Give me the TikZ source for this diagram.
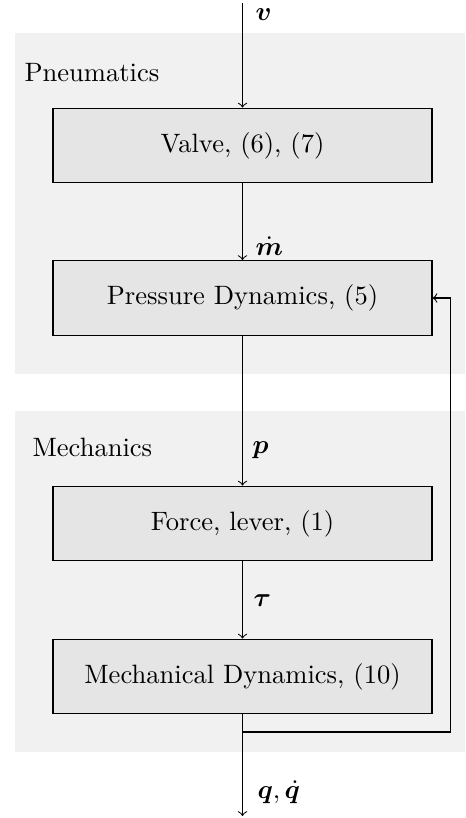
\documentclass[tikz,border=0pt]{standalone}
\usepackage{bm}
\usepackage{amsmath}
\begin{document}
\begin{tikzpicture}[x=0.3765pt,y=-0.3765pt,
  blockbox/.style={draw=black,fill=black!10,line width=0.4pt,minimum width=142.7pt,minimum height=28.2pt,inner sep=0pt},
  bgarea/.style={fill=black!5.5,draw=none},
  sig/.style={anchor=west,inner sep=0pt},
  flow/.style={->,line width=0.4pt}]
\useasboundingbox (0,0) rectangle (465,818);
\fill[bgarea] (15,33) rectangle (465,374);
\fill[bgarea] (15,411) rectangle (465,752);
\node[anchor=base west,inner sep=0pt] (lpn) at (24,82) {Pneumatics};
\node[anchor=base west,inner sep=0pt] (lme) at (32,456) {Mechanics};
\node[blockbox] (valve) at (242.5,145.5) {Valve, (6), (7)};
\node[blockbox] (pres) at (242.5,298) {Pressure Dynamics, (5)};
\node[blockbox] (force) at (242.5,523.5) {Force, lever, (1)};
\node[blockbox] (mech) at (242.5,676.5) {Mechanical Dynamics, (10)};
\coordinate (in) at (242.5,3);
\coordinate (out) at (242.5,816);
\coordinate (fb) at (242.5,732);
\coordinate (fbr) at (450.5,732);
\draw[flow] (in) -- (valve.north);
\draw[flow] (valve.south) -- (pres.north);
\draw[flow] (pres.south) -- (force.north);
\draw[flow] (force.south) -- (mech.north);
\draw[flow] (mech.south) -- (out);
\draw[flow] (fb) -- (fbr) |- (pres.east);
\node[sig] (lv) at (255,15) {$\bm{v}$};
\node[sig] (lm) at (255,246) {$\dot{\bm{m}}$};
\node[sig] (lp) at (252,450) {$\bm{p}$};
\node[sig] (lt) at (253,601) {$\bm{\tau}$};
\node[sig] (lq) at (257,792) {$\bm{q},\dot{\bm{q}}$};
\end{tikzpicture}
\end{document}
